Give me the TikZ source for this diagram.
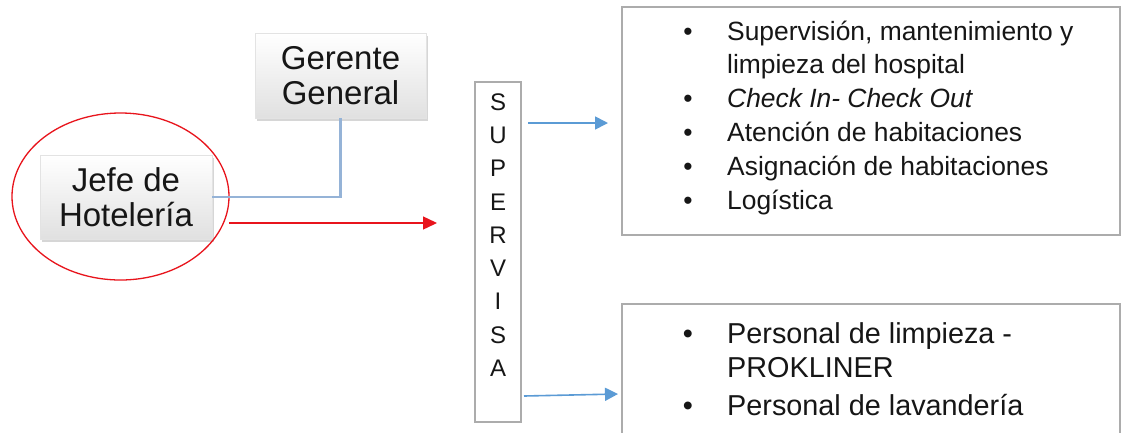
\documentclass[tikz,border=0pt]{standalone}
\usepackage{fontspec}
\setmainfont{Liberation Sans}
\usetikzlibrary{shapes.geometric,shadows,arrows.meta}

\definecolor{boxline}{RGB}{172,172,172}
\definecolor{linkblue}{RGB}{149,179,215}
\definecolor{arrowblue}{RGB}{91,155,213}
\definecolor{markred}{RGB}{232,20,28}
\definecolor{inktext}{RGB}{22,22,22}

\begin{document}
\begin{tikzpicture}[x=1pt,y=-1pt,
  rolebox/.style={rectangle, inner sep=0, top color=white, bottom color=gray!24,
    draw=gray!22, line width=0.6pt,
    drop shadow={shadow xshift=2pt,shadow yshift=-3pt,opacity=0.4,fill=gray!80},
    font=\fontsize{33}{34.5}\selectfont, align=center, text=inktext},
  framebox/.style={rectangle, draw=boxline, line width=1.5pt, inner sep=0},
  upbul/.style={font=\fontsize{26.4}{30}\selectfont, anchor=base, text=inktext, inner sep=0},
  uptxt/.style={font=\fontsize{26.4}{30}\selectfont, anchor=base west, text=inktext, inner sep=0},
  lowbul/.style={font=\fontsize{28.8}{34}\selectfont, anchor=base, text=inktext, inner sep=0},
  lowtxt/.style={font=\fontsize{28.8}{34}\selectfont, anchor=base west, text=inktext, inner sep=0},
  bluearrow/.style={arrowblue, line width=1.6pt, -{Triangle[length=13pt,width=13pt]}},
  redarrow/.style={markred, line width=1.4pt, -{Triangle[length=14pt,width=13pt]}},
  linkline/.style={linkblue, line width=2.2pt}
]
\path[use as bounding box, clip] (0,0) rectangle (1124,432);
\fill[white] (0,0) rectangle (1124,432);

% management boxes
\node[rolebox, minimum width=171pt, minimum height=85pt] (ger) at (340.5,75.5) {Gerente\\General};
\node[rolebox, minimum width=172pt, minimum height=84pt] (jefe) at (126,197) {Jefe de\\Hotelería};

% highlight ring around the head of housekeeping
\node[ellipse, draw=markred, line width=1.3pt, minimum width=217pt, minimum height=167pt, inner sep=0] (ring) at (120.5,196.5) {};

% reporting line
\draw[linkline] (ger.south) |- (jefe.east);

% supervises column
\node[framebox, minimum width=46pt, minimum height=340pt] (sup) at (498,252) {};
\node[font=\fontsize{24}{33.25}\selectfont, align=center, text=inktext, inner sep=0] (suptxt) at (498,235)
  {S\\U\\P\\E\\R\\V\\I\\S\\A};

% red pointer
\coordinate (redstart) at (229,223);
\coordinate (redend) at (437,223);
\draw[redarrow] (redstart) -- (redend);

% task list boxes
\node[framebox, minimum width=498pt, minimum height=228pt] (tasks) at (871,121) {};
\node[framebox, minimum width=498pt, minimum height=156pt] (staff) at (871,382) {};

% arrows into the lists
\coordinate (ua) at (528,123);
\coordinate (ub) at (608,123);
\draw[bluearrow] (ua) -- (ub);
\coordinate (la) at (524,396);
\coordinate (lb) at (618,394);
\draw[bluearrow] (la) -- (lb);

% upper list
\node[upbul] (b1) at (688,40) {•};
\node[uptxt] (t1) at (727,40) {Supervisión, mantenimiento y};
\node[uptxt] (t1b) at (727,73.5) {limpieza del hospital};
\node[upbul] (b2) at (688,107) {•};
\node[uptxt] (t2) at (727,107) {\itshape Check In- Check Out};
\node[upbul] (b3) at (688,141) {•};
\node[uptxt] (t3) at (727,141) {Atención de habitaciones};
\node[upbul] (b4) at (688,175) {•};
\node[uptxt] (t4) at (727,175) {Asignación de habitaciones};
\node[upbul] (b5) at (688,209) {•};
\node[uptxt] (t5) at (727,209) {Logística};

% lower list
\node[lowbul] (c1) at (688,343) {•};
\node[lowtxt] (s1) at (727,343) {Personal de limpieza -};
\node[lowtxt] (s1b) at (727,377) {PROKLINER};
\node[lowbul] (c2) at (688,415) {•};
\node[lowtxt] (s2) at (727,415) {Personal de lavandería};
\end{tikzpicture}
\end{document}
